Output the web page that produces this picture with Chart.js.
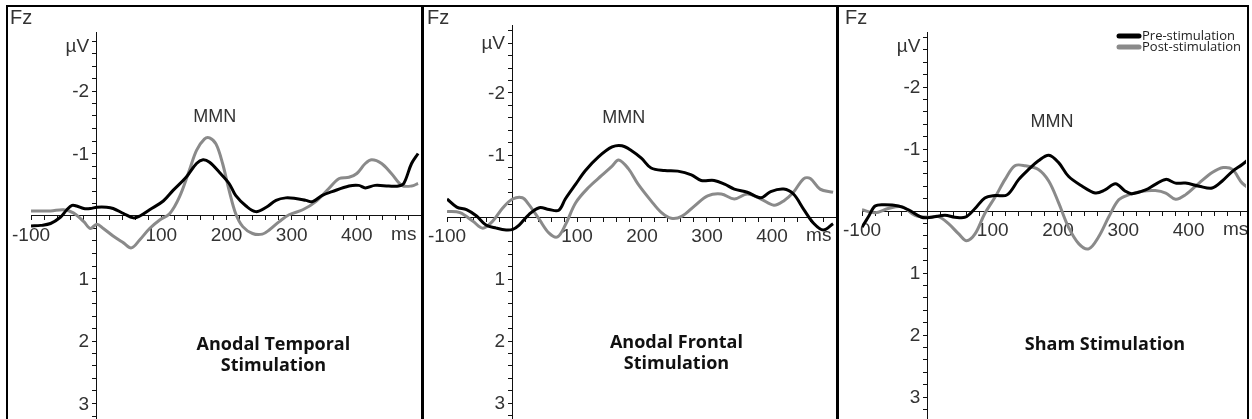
<!DOCTYPE html>
<html>
<head>
<meta charset="utf-8">
<script src="https://cdn.jsdelivr.net/npm/chart.js@4.4.1/dist/chart.umd.min.js"></script>
<style>
  html, body { margin: 0; padding: 0; background: #fff; overflow: hidden; }
  body { width: 1252px; height: 419px; position: relative; }
  canvas { position: absolute; top: 0; }
  .rule { position: absolute; background: #000; }
</style>
</head>
<body>
<div class="rule" style="left:6px;top:5px;width:1243px;height:2px"></div>
<div class="rule" style="left:6px;top:5px;width:2px;height:414px"></div>
<div class="rule" style="left:421px;top:5px;width:3px;height:414px"></div>
<div class="rule" style="left:836px;top:5px;width:3px;height:414px"></div>
<div class="rule" style="left:1247px;top:5px;width:2px;height:414px"></div>
<canvas id="temporal"></canvas>
<canvas id="frontal"></canvas>
<canvas id="sham"></canvas>
<script>
// [ms, µV] pairs (negative up)
const temporalPre = [[-100,0.16],[-85,0.15],[-70,0.12],[-55,0.02],[-45,-0.10],[-37,-0.17],[-30,-0.16],[-19,-0.12],[-9,-0.12],[1,-0.14],[16,-0.14],[26,-0.12],[42,-0.04],[57,0.03],[67,0],[82,-0.10],[103,-0.24],[118,-0.41],[138,-0.62],[154,-0.84],[164,-0.90],[174,-0.86],[189,-0.70],[204,-0.52],[214,-0.33],[230,-0.16],[245,-0.07],[261,-0.14],[276,-0.25],[291,-0.29],[306,-0.28],[322,-0.25],[332,-0.23],[347,-0.33],[362,-0.39],[388,-0.48],[403,-0.49],[413,-0.45],[428,-0.49],[449,-0.48],[464,-0.48],[472,-0.52],[484,-0.84],[494,-1.0]];
const temporalPost = [[-100,-0.08],[-70,-0.08],[-50,-0.10],[-35,-0.05],[-19,0.09],[-9,0.20],[1,0.13],[11,0.20],[26,0.32],[42,0.43],[54,0.51],[67,0.38],[82,0.20],[98,0.06],[113,-0.04],[128,-0.31],[143,-0.73],[154,-1.05],[166,-1.23],[174,-1.25],[184,-1.15],[194,-0.84],[204,-0.41],[214,-0.04],[225,0.17],[240,0.28],[255,0.29],[266,0.22],[281,0.09],[296,-0.02],[317,-0.10],[337,-0.23],[357,-0.44],[373,-0.60],[388,-0.62],[400,-0.68],[413,-0.84],[423,-0.90],[438,-0.84],[453,-0.68],[469,-0.49],[484,-0.48],[494,-0.52]];

const frontalPre = [[-100,-0.29],[-85,-0.16],[-70,-0.12],[-55,-0.02],[-40,0.13],[-24,0.18],[-9,0.21],[1,0.20],[11,0.13],[26,-0.04],[42,-0.15],[57,-0.12],[72,-0.11],[82,-0.29],[98,-0.53],[113,-0.75],[133,-0.97],[154,-1.13],[169,-1.15],[184,-1.07],[199,-0.95],[214,-0.79],[235,-0.75],[255,-0.74],[276,-0.68],[291,-0.59],[311,-0.59],[327,-0.53],[342,-0.45],[362,-0.40],[383,-0.31],[398,-0.41],[418,-0.45],[433,-0.37],[449,-0.12],[464,0.10],[479,0.21],[494,0.11]];
const frontalPost = [[-100,-0.09],[-80,-0.07],[-60,0.07],[-45,0.18],[-30,0.07],[-14,-0.15],[1,-0.29],[16,-0.31],[26,-0.20],[42,0.04],[57,0.26],[70,0.32],[82,0.13],[98,-0.23],[118,-0.48],[138,-0.67],[154,-0.82],[164,-0.92],[179,-0.78],[194,-0.53],[214,-0.26],[230,-0.07],[245,0.02],[261,-0.01],[281,-0.18],[301,-0.34],[322,-0.37],[342,-0.29],[362,-0.37],[383,-0.29],[403,-0.19],[418,-0.26],[433,-0.40],[449,-0.62],[459,-0.62],[474,-0.45],[494,-0.40]];

const shamPre = [[-100,0.26],[-90,0.09],[-80,-0.08],[-65,-0.10],[-44,-0.08],[-29,-0.02],[-9,0.10],[7,0.10],[27,0.07],[42,0.10],[58,0.10],[73,-0.04],[88,-0.21],[104,-0.25],[122,-0.26],[140,-0.51],[155,-0.67],[170,-0.81],[186,-0.90],[201,-0.78],[216,-0.56],[237,-0.40],[257,-0.29],[272,-0.34],[288,-0.44],[303,-0.32],[313,-0.28],[334,-0.34],[349,-0.43],[365,-0.51],[380,-0.45],[395,-0.45],[416,-0.40],[436,-0.37],[451,-0.48],[467,-0.64],[482,-0.75],[498,-0.89]];
const shamPost = [[-100,-0.02],[-80,0.03],[-60,-0.04],[-39,-0.07],[-19,0.07],[2,0.10],[17,0.09],[32,0.20],[48,0.37],[60,0.48],[73,0.37],[88,0.04],[104,-0.23],[119,-0.51],[134,-0.73],[150,-0.73],[170,-0.67],[186,-0.48],[201,-0.13],[216,0.26],[232,0.53],[247,0.61],[262,0.42],[278,0.09],[293,-0.18],[308,-0.26],[329,-0.32],[349,-0.33],[365,-0.29],[380,-0.19],[395,-0.26],[416,-0.45],[436,-0.62],[453,-0.70],[467,-0.67],[482,-0.45],[498,-0.33]];

const seriesNames = ['Pre-stimulation', 'Post-stimulation'];
const seriesColors = ['#000000', '#8a8a8a'];
const msLabels = [-100, 100, 200, 300, 400];
const uvLabels = [-2, -1, 1, 2, 3];

const PX_PER_MS = 0.655;

// panel layout (page pixels)
const panels = [
  { id: 'temporal', left: 8, width: 413, axisLeft: 29, axisTop: 32, zeroY: 216, pxPerUv: 62.5, fzX: 2,
    pre: temporalPre, post: temporalPost, mmn: [182, -1.58], unitAt: -2.7,
    title: ['Anodal Temporal', 'Stimulation'], titleAt: [272, 2.06], legend: false },
  { id: 'frontal', left: 424, width: 412, axisLeft: 444, axisTop: 25, zeroY: 217, pxPerUv: 62, fzX: 3,
    pre: frontalPre, post: frontalPost, mmn: [172, -1.6], unitAt: -2.8,
    title: ['Anodal Frontal', 'Stimulation'], titleAt: [253, 2.03], legend: false },
  { id: 'sham', left: 839, width: 408, axisLeft: 861, axisTop: 32, zeroY: 211, pxPerUv: 62, fzX: 6,
    pre: shamPre, post: shamPost, mmn: [191, -1.44], unitAt: -2.65,
    title: ['Sham Stimulation'], titleAt: [272, 2.16], legend: true }
];

const LABEL_FONT = '19px "Liberation Sans", Arial, sans-serif';
const tickFont = { family: '"Liberation Sans", Arial, sans-serif', size: 19 };

const eegText = {
  id: 'eegText',
  afterDraw(chart, args, opts) {
    const { ctx, scales: { x, y } } = chart;
    const x0 = x.getPixelForValue(0), y0 = y.getPixelForValue(0);
    ctx.save();
    ctx.fillStyle = '#333';
    ctx.font = '20px "Liberation Sans", Arial, sans-serif';
    ctx.textAlign = 'left';
    ctx.textBaseline = 'top';
    ctx.fillText('Fz', opts.fzX, 8);

    // y tick labels sit left of the axis (chart.js puts them on the line when the axis is positioned by value)
    ctx.font = LABEL_FONT;
    ctx.textAlign = 'right';
    ctx.textBaseline = 'middle';
    uvLabels.forEach(v => ctx.fillText(String(v), x0 - 7, y.getPixelForValue(v) + 1));
    ctx.fillText('µV', x0 - 7, y.getPixelForValue(opts.unitAt));

    ctx.textAlign = 'center';
    ctx.textBaseline = 'top';
    ctx.fillText('ms', x.getPixelForValue(472), y0 + 9);

    ctx.textBaseline = 'middle';
    ctx.font = '18px "Liberation Sans", Arial, sans-serif';
    ctx.fillText('MMN', x.getPixelForValue(opts.mmn[0]), y.getPixelForValue(opts.mmn[1]));

    ctx.fillStyle = '#111';
    ctx.font = 'bold 18px "Open Sans", sans-serif';
    opts.title.forEach((line, i) => {
      ctx.fillText(line, x.getPixelForValue(opts.titleAt[0]), y.getPixelForValue(opts.titleAt[1]) + i * 21);
    });

    if (opts.legend) {
      ctx.font = '13px "Open Sans", sans-serif';
      ctx.textAlign = 'left';
      ctx.lineCap = 'round';
      ctx.lineWidth = 5;
      chart.data.datasets.forEach((ds, i) => {
        const ly = 36 + i * 11;
        ctx.strokeStyle = ds.borderColor;
        ctx.beginPath();
        ctx.moveTo(chart.width - 128, ly);
        ctx.lineTo(chart.width - 108, ly);
        ctx.stroke();
        ctx.fillStyle = '#222';
        ctx.fillText(ds.label, chart.width - 105, ly);
      });
    }
    ctx.restore();
  }
};

panels.forEach(p => {
  const canvas = document.getElementById(p.id);
  canvas.width = p.width;
  canvas.height = 452;
  canvas.style.left = p.left + 'px';
  canvas.style.width = p.width + 'px';
  canvas.style.height = '452px';

  const chartBottom = 440;
  const yMin = -(p.zeroY - p.axisTop) / p.pxPerUv;
  const yMax = (chartBottom - p.zeroY) / p.pxPerUv;
  const xMin = -100;
  const xMax = xMin + (p.left + p.width - 1 - p.axisLeft) / PX_PER_MS;

  new Chart(canvas, {
    type: 'line',
    data: {
      datasets: [p.pre, p.post].map((s, i) => ({
        label: seriesNames[i],
        data: s.map(([t, v]) => ({ x: t, y: v })),
        borderColor: seriesColors[i],
        backgroundColor: seriesColors[i],
        borderWidth: 3,
        pointRadius: 0,
        tension: 0.35
      }))
    },
    options: {
      responsive: false,
      animation: false,
      layout: { padding: { left: p.axisLeft - p.left, top: p.axisTop, right: 1, bottom: 12 } },
      plugins: {
        legend: { display: false },
        tooltip: { enabled: false },
        eegText: p
      },
      scales: {
        x: {
          type: 'linear',
          min: xMin,
          max: xMax,
          position: { y: 0 },
          border: { color: '#111', width: 1 },
          grid: { drawOnChartArea: false, tickLength: 4, color: '#111' },
          ticks: {
            stepSize: 20,
            includeBounds: false,
            autoSkip: false,
            maxRotation: 0,
            padding: 4,
            color: '#333',
            font: tickFont,
            callback: v => msLabels.includes(Math.round(v)) && Math.abs(v - Math.round(v)) < 1e-6 ? String(Math.round(v)) : ''
          }
        },
        y: {
          type: 'linear',
          reverse: true,
          min: yMin,
          max: yMax,
          position: { x: 0 },
          border: { color: '#111', width: 1 },
          grid: { drawOnChartArea: false, tickLength: 4, color: '#111' },
          ticks: {
            stepSize: 0.2,
            includeBounds: false,
            autoSkip: false,
            display: false
          }
        }
      }
    },
    plugins: [eegText]
  });
});
</script>
</body>
</html>
